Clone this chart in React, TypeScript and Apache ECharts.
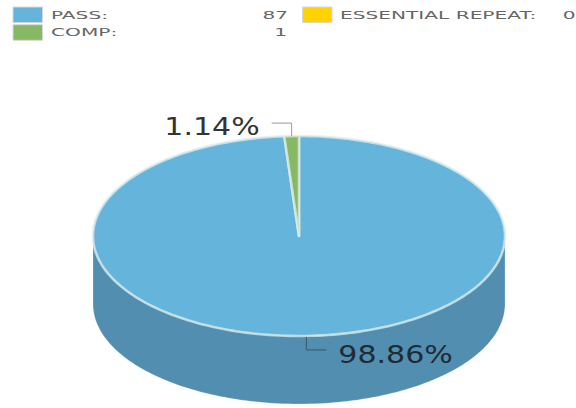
import React, { useEffect, useRef } from "react";
import * as echarts from "echarts";

const categories = ["PASS", "ESSENTIAL REPEAT", "COMP"];
const values = [87, 0, 1];
const topColors = ["#65b4dc", "#ffd200", "#87b864"];
const sideColors = ["#528eaf", "#c9a600", "#6b9450"];

const CX = 299, CY = 236, RX = 206, RY = 100, DEPTH = 68;
const total = values.reduce((a, b) => a + b, 0);
const TEXT_FONT = '"DejaVu Sans", sans-serif';

const pt = (deg: number, dy = 0): number[] => {
  const r = (deg * Math.PI) / 180;
  return [CX + RX * Math.sin(r), CY + dy - RY * Math.cos(r)];
};
const arc = (a: number, b: number, dy = 0): number[][] => {
  const out: number[][] = [];
  const n = Math.max(2, Math.ceil(Math.abs(b - a) / 1.5));
  for (let i = 0; i <= n; i++) out.push(pt(a + ((b - a) * i) / n, dy));
  return out;
};

const startAngle = (idx: number) => {
  let s = 0;
  for (let i = 0; i < idx; i++) s += values[i];
  return (s / total) * 360;
};

const renderItem = (params: any, api: any) => {
  const idx = params.dataIndex;
  const v = api.value(1);
  if (!v) return { type: "group", children: [] };
  const a = startAngle(idx);
  const b = a + (v / total) * 360;
  const mid = (a + b) / 2;
  const children: any[] = [];
  const fa = Math.max(a, 90), fb = Math.min(b, 270);
  if (fb > fa) {
    children.push({
      type: "polygon",
      shape: { points: [...arc(fa, fb), ...arc(fb, fa, DEPTH)] },
      style: { fill: sideColors[idx], stroke: "rgba(255,255,255,0.2)", lineWidth: 1 },
    });
  }
  children.push({
    type: "polygon",
    shape: { points: [[CX, CY], ...arc(a, b)] },
    style: { fill: topColors[idx], stroke: "rgba(222,238,235,0.75)", lineWidth: 2.6, lineJoin: "round" },
  });
  const p = pt(mid);
  const pct = ((v / total) * 100).toFixed(2) + "%";
  const front = Math.cos((mid * Math.PI) / 180) < 0;
  const elbowY = front ? p[1] + 14 : p[1] - 13;
  const endX = front ? p[0] + 20 : p[0] - 20;
  children.push({
    type: "polyline",
    shape: { points: [[p[0], p[1] + (front ? 1 : 0)], [p[0], elbowY], [endX, elbowY]] },
    style: { fill: "none", stroke: front ? "#3a5565" : "#999999", lineWidth: 1 },
  });
  children.push({
    type: "text",
    x: front ? endX + 12 : endX - 12,
    y: front ? elbowY + 5 : elbowY + 4,
    scaleX: 1.25,
    style: {
      text: pct,
      font: `24px ${TEXT_FONT}`,
      fill: front ? "#1f2b33" : "#333333",
      align: front ? "left" : "right",
      verticalAlign: "middle",
    },
  });
  return { type: "group", children };
};

const legendSlots = [
  { swatchX: 13, textX: 51, valueX: 288, y: 14.8 },
  { swatchX: 302.5, textX: 340, valueX: 575.5, y: 14.8 },
  { swatchX: 13, textX: 51, valueX: 287, y: 32.5 },
];

const legendGraphics = categories.flatMap((c, i) => {
  const s = legendSlots[i];
  const text = { font: `11px ${TEXT_FONT}`, fill: "#666666", verticalAlign: "middle" };
  return [
    { type: "rect", shape: { x: s.swatchX, y: s.y - 7.8, width: 29.5, height: 15.6 }, style: { fill: topColors[i], stroke: "#d8d8d8", lineWidth: 1 } },
    { type: "text", x: s.textX, y: s.y, scaleX: 1.83, style: { ...text, text: c + ":", align: "left" } },
    { type: "text", x: s.valueX, y: s.y, scaleX: 1.83, style: { ...text, text: String(values[i]), align: "right" } },
  ];
});

export default function App() {
  const ref = useRef<HTMLDivElement>(null);
  useEffect(() => {
    const chart = echarts.init(ref.current!, undefined, { renderer: "svg" });
    chart.setOption({
      animation: false,
      backgroundColor: "#ffffff",
      graphic: legendGraphics,
      series: [
        {
          type: "custom",
          coordinateSystem: "none",
          renderItem,
          data: categories.map((c, i) => [c, values[i]]),
          silent: true,
        },
      ],
    });
    return () => chart.dispose();
  }, []);
  return <div ref={ref} style={{ position: "fixed", left: 0, top: 0, width: 576, height: 408 }} />;
}
